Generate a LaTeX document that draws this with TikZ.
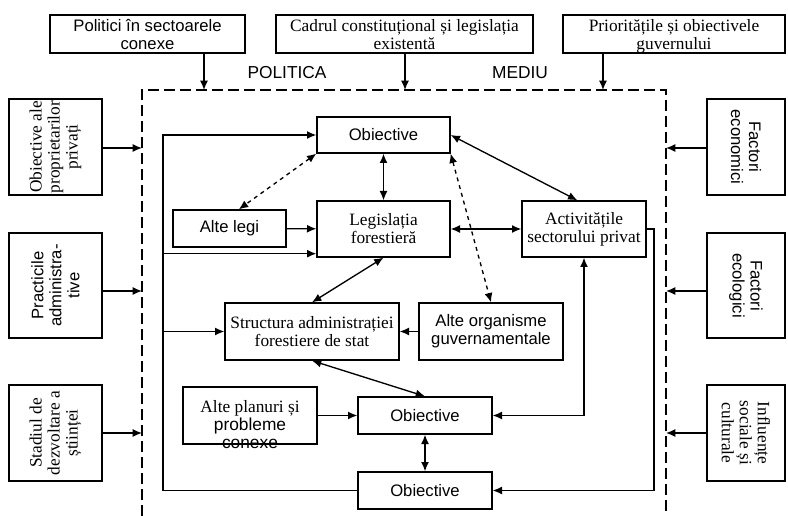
\documentclass[tikz,border=0pt]{standalone}
\usepackage{fontspec}
\setmainfont{Liberation Serif}
\setsansfont{Liberation Sans}
\usetikzlibrary{arrows.meta}
\newcommand\pxu{0.75pt}

\begin{document}
\begin{tikzpicture}[x=0.75pt, y=-0.75pt, >={Latex[length=7pt,width=6pt]}, line width=1pt,
  bx/.style={draw, inner sep=1pt, align=center},
  sf/.style={font=\sffamily\fontsize{12.5}{13.5}\selectfont},
  rm/.style={font=\rmfamily\fontsize{13}{13.5}\selectfont}]

  \useasboundingbox (0,0) rectangle (788,516);

  % --- 1. the dashed frame (bottom edge runs off the page) ---
  \coordinate (ftl) at (142,90);
  \coordinate (ftr) at (666,90);
  \draw[dash pattern=on 8pt off 4pt] (142,516) -- (ftl) -- (ftr) -- (666,516);
  \node[font=\sffamily\fontsize{13}{14}\selectfont] (politica) at (287,73) {POLITICA};
  \node[font=\sffamily\fontsize{13}{14}\selectfont] (mediu) at (520,73) {MEDIU};

  % --- 2. boxes above the frame ---
  \node[bx, sf, minimum width=195*\pxu, minimum height=38*\pxu, text depth=-1.5pt] (pol) at (147.5,34) {Politici în sectoarele\\conexe};
  \node[bx, rm, minimum width=257*\pxu, minimum height=38*\pxu, text depth=-1.5pt] (cad) at (404.5,34) {Cadrul constituțional și legislația\\existentă};
  \node[bx, rm, minimum width=222*\pxu, minimum height=38*\pxu, text depth=-1.5pt] (pri) at (674,34) {Prioritățile și obiectivele\\guvernului};

  \coordinate (top1) at (204,90);
  \coordinate (top2) at (405,90);
  \coordinate (top3) at (603,90);
  \draw[->] (top1 |- pol.south) -- (top1);
  \draw[->] (top2 |- cad.south) -- (top2);
  \draw[->] (top3 |- pri.south) -- (top3);

  % --- 3. boxes on the left ---
  \node[bx, rm, rotate=90, minimum width=96*\pxu, minimum height=93*\pxu] (opp) at (55.5,147) {Obiective ale\\proprietarilor\\privați};
  \node[bx, sf, rotate=90, minimum width=105*\pxu, minimum height=93*\pxu] (pad) at (55.5,285.5) {Practicile\\administra-\\tive};
  \node[bx, rm, rotate=90, minimum width=96*\pxu, minimum height=93*\pxu] (sds) at (55.5,433) {Stadiul de\\dezvoltare a\\științei};

  \coordinate (in1) at (142,148);
  \coordinate (in2) at (142,291);
  \coordinate (in3) at (142,433);
  \draw[->] (opp.south |- in1) -- (in1);
  \draw[->] (pad.south |- in2) -- (in2);
  \draw[->] (sds.south |- in3) -- (in3);

  % --- 4. boxes on the right ---
  \node[bx, sf, rotate=-90, minimum width=96*\pxu, minimum height=78*\pxu] (fec) at (746,147) {Factori\\economici};
  \node[bx, sf, rotate=-90, minimum width=105*\pxu, minimum height=78*\pxu] (fel) at (746,285.5) {Factori\\ecologici};
  \node[bx, rm, rotate=-90, minimum width=96*\pxu, minimum height=78*\pxu] (isc) at (746,433) {Influențe\\sociale și\\culturale};

  \coordinate (out1) at (666,148);
  \coordinate (out2) at (666,291);
  \coordinate (out3) at (666,433);
  \draw[->] (fec.south |- out1) -- (out1);
  \draw[->] (fel.south |- out2) -- (out2);
  \draw[->] (isc.south |- out3) -- (out3);

  % --- 5. boxes inside the frame ---
  \node[bx, sf, minimum width=133*\pxu, minimum height=36*\pxu] (o1) at (383.5,135) {Obiective};
  \node[bx, rm, minimum width=133*\pxu, minimum height=56*\pxu] (lf) at (383.5,229) {Legislația\\forestieră};
  \node[bx, sf, minimum width=113*\pxu, minimum height=37*\pxu] (al) at (229.5,228.5) {Alte legi};
  \node[bx, rm, minimum width=124*\pxu, minimum height=56*\pxu] (asp) at (584,229) {Activitățile\\sectorului privat};
  \node[bx, rm, minimum width=174*\pxu, minimum height=57*\pxu] (sa) at (312,331.5) {Structura administrației\\forestiere de stat};
  \node[bx, sf, minimum width=144*\pxu, minimum height=57*\pxu] (ao) at (491,331.5) {Alte organisme\\guvernamentale};
  \node[bx, minimum width=134*\pxu, minimum height=57*\pxu] (ap) at (250,415.5) {};
  \node[align=center, inner sep=0pt, font=\fontsize{13}{13.5}\selectfont] (apt) at ([yshift=-7pt]ap.center)
    {{\rmfamily Alte planuri și}\\{\sffamily probleme}\\{\sffamily conexe}};
  \node[bx, sf, minimum width=134*\pxu, minimum height=37*\pxu] (o2) at (425,415.5) {Obiective};
  \node[bx, sf, minimum width=134*\pxu, minimum height=37*\pxu] (o3) at (425,490.5) {Obiective};

  % --- 6. links between the inner boxes ---
  \draw[<->] (o1) -- (lf);
  \draw[->] (al) -- (lf);
  \draw[<->] (lf) -- (asp);
  \draw[<->] (o1.east) -- ([xshift=-5pt]asp.north);
  \draw[<->, dashed] (o1.south west) -- ([xshift=7pt]al.north);
  \draw[<->, dashed] (o1.south east) -- (ao.north);
  \draw[<->] (lf.south) -- (sa.north);
  \draw[->] (ao) -- (sa);
  \draw[<->] (sa.south) -- (o2.north);
  \draw[->] (ap) -- (o2);
  \draw[<->] (o2) -- (o3);
  \draw[<->] (o2.east) -| (asp.south);

  % --- 7. feedback loops ---
  \coordinate (lx) at (163,0);
  \coordinate (rx) at (654,0);
  \coordinate (lfin) at ([yshift=3pt]lf.south west);
  \draw[->] (o3.west) -- (o3.west -| lx) |- (o1.west);
  \draw[->] (lx |- lfin) -- (lfin);
  \draw[->] (lx |- sa.west) -- (sa.west);
  \draw[->] (asp.east) -- (asp.east -| rx) |- (o3.east);

\end{tikzpicture}
\end{document}
